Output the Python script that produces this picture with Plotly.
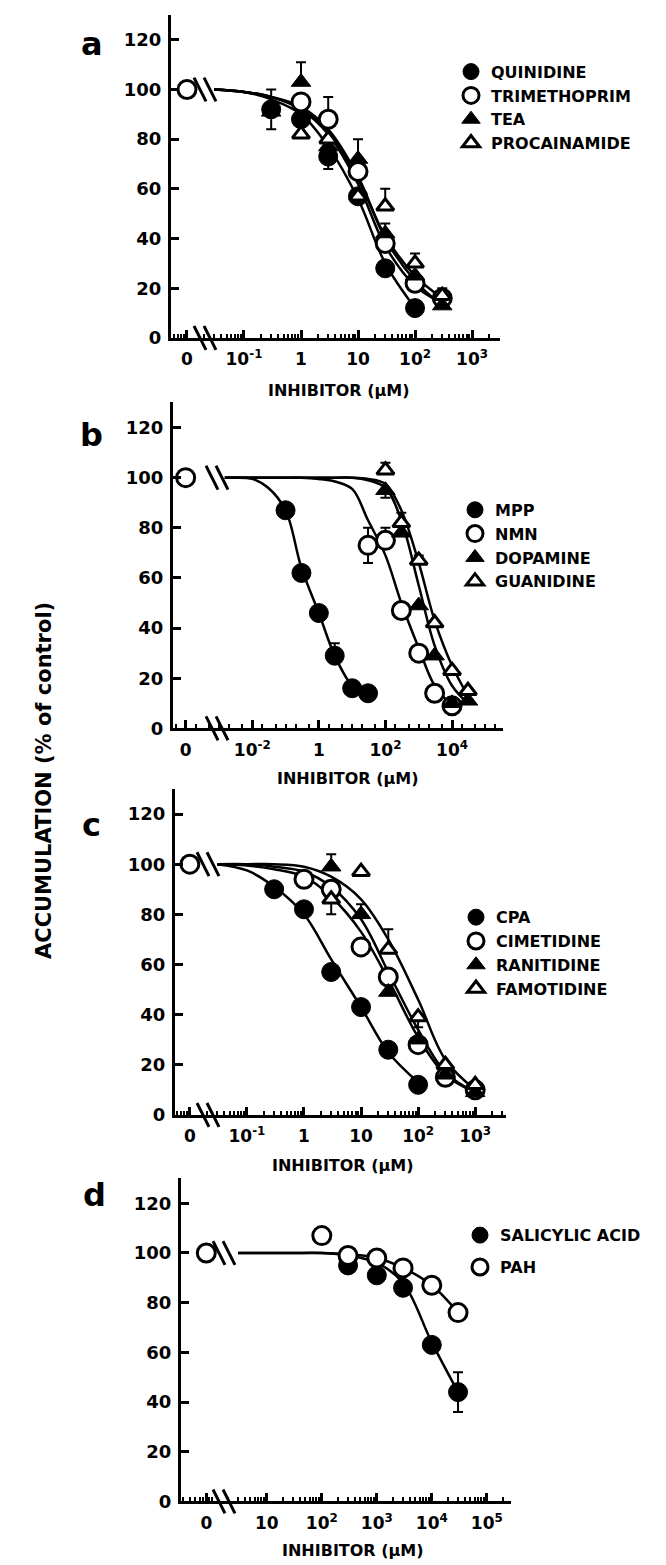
import plotly.graph_objects as go

W, H = 666, 1565
FONT = "DejaVu Sans"

# ================= DATA =================
CONTROL_Y = 100  # control accumulation (%) plotted at "0" inhibitor

# ---- panel a ----
A_QUIN_X = [0.3, 1, 3, 10, 30, 100]
A_QUIN_Y = [92, 88, 73, 57, 28, 12]
A_QUIN_EP = [8, 0, 0, 0, 0, 0]
A_QUIN_EM = [8, 0, 5, 0, 0, 0]
A_TRIM_X = [1, 3, 10, 30, 100, 300]
A_TRIM_Y = [95, 88, 67, 38, 22, 16]
A_TRIM_EP = [0, 9, 0, 0, 0, 0]
A_TEA_X = [0.3, 1, 3, 10, 30, 100, 300]
A_TEA_Y = [91, 103, 77, 72, 42, 25, 13]
A_TEA_EP = [0, 8, 0, 8, 4, 0, 0]
A_PROC_X = [1, 3, 10, 30, 100, 300]
A_PROC_Y = [82, 80, 57, 53, 30, 17]
A_PROC_EP = [0, 0, 0, 7, 4, 3]
# fitted curves
A_CURVE_X = [0.03, 0.1, 0.3, 1, 3, 10, 30, 100, 300]
A_QUIN_FIT = [100, 99, 96, 90, 77, 56, 30, 12]
A_TRIM_FIT = [100, 99, 97, 92, 82, 62, 37, 21, 14]
A_TEA_FIT = [100, 99, 97, 93, 84, 65, 40, 23, 13]
A_PROC_FIT = [100, 99, 97, 92, 83, 64, 41, 25, 16]
A_TICKVALS = [0.1, 1, 10, 100, 1000]
A_TICKTEXT = ["10<sup>-1</sup>", "1", "10", "10<sup>2</sup>", "10<sup>3</sup>"]

# ---- panel b ----
B_MPP_X = [0.1, 0.3, 1, 3, 10, 30]
B_MPP_Y = [87, 62, 46, 29, 16, 14]
B_MPP_EP = [0, 0, 0, 5, 0, 0]
B_NMN_X = [30, 100, 300, 1000, 3000, 10000]
B_NMN_Y = [73, 75, 47, 30, 14, 9]
B_NMN_EP = [7, 5, 0, 0, 0, 0]
B_NMN_EM = [7, 0, 0, 0, 0, 0]
B_DOPA_X = [100, 300, 1000, 3000, 10000, 30000]
B_DOPA_Y = [95, 78, 49, 29, 10, 11]
B_DOPA_EM = [3, 0, 0, 0, 0, 0]
B_GUAN_X = [100, 300, 1000, 3000, 10000, 30000]
B_GUAN_Y = [103, 82, 67, 42, 23, 15]
B_GUAN_EP = [3, 4, 2, 0, 0, 0]
B_CURVE_X = [0.0015, 0.003, 0.01, 0.03, 0.1, 0.3, 1, 3, 10, 30,
             100, 300, 1000, 3000, 10000, 30000]
B_MPP_FIT = [100, 100, 99.5, 96, 87, 64, 46, 29, 17, 13]
B_NMN_FIT = [100, 100, 100, 100, 100, 100, 99.5, 98.5, 95.5, 83, 69, 50, 32, 17, 9]
B_DOPA_FIT = [100, 100, 100, 100, 100, 100, 100, 100, 100, 99, 96, 83, 57, 33, 17, 10]
B_GUAN_FIT = [100, 100, 100, 100, 100, 100, 100, 100, 100, 99.5, 97.5, 87, 66, 43, 25, 13]
B_TICKVALS = [0.01, 1, 100, 10000]
B_TICKTEXT = ["10<sup>-2</sup>", "1", "10<sup>2</sup>", "10<sup>4</sup>"]

# ---- panel c ----
C_CPA_X = [0.3, 1, 3, 10, 30, 100]
C_CPA_Y = [90, 82, 57, 43, 26, 12]
C_CIM_X = [1, 3, 10, 30, 100, 300, 1000]
C_CIM_Y = [94, 90, 67, 55, 28, 15, 10]
C_RAN_X = [3, 10, 30, 100, 300, 1000]
C_RAN_Y = [99, 80, 49, 30, 16, 9]
C_RAN_EP = [5, 4, 0, 0, 0, 0]
C_FAM_X = [3, 10, 30, 100, 300, 1000]
C_FAM_Y = [86, 97, 66, 39, 20, 12]
C_FAM_EP = [0, 0, 8, 0, 0, 0]
C_FAM_EM = [6, 0, 0, 4, 0, 0]
C_CURVE_X = [0.03, 0.1, 0.3, 1, 3, 10, 30, 100, 300, 1000]
C_CPA_FIT = [100, 97.5, 91, 80, 62, 43, 25, 13]
C_CIM_FIT = [100, 99.5, 98, 95, 87, 73, 54, 31, 16, 9]
C_RAN_FIT = [100, 100, 99, 97, 91, 78, 57, 34, 17, 9]
C_FAM_FIT = [100, 100, 100, 99, 95, 86, 70, 46, 22, 10]
C_TICKVALS = [0.1, 1, 10, 100, 1000]
C_TICKTEXT = ["10<sup>-1</sup>", "1", "10", "10<sup>2</sup>", "10<sup>3</sup>"]

# ---- panel d ----
D_SA_X = [300, 1000, 3000, 10000, 30000]
D_SA_Y = [95, 91, 86, 63, 44]
D_SA_EP = [0, 0, 0, 0, 8]
D_SA_EM = [0, 0, 0, 0, 8]
D_PAH_X = [100, 300, 1000, 3000, 10000, 30000]
D_PAH_Y = [107, 99, 98, 94, 87, 76]
D_CURVE_X = [3, 10, 30, 100, 300, 1000, 3000, 10000, 30000]
D_SA_FIT = [100, 100, 100, 100, 99, 96, 88, 64, 44]
D_PAH_FIT = [100, 100, 100, 100, 99.5, 98, 94, 87, 76]
D_TICKVALS = [10, 100, 1000, 10000, 100000]
D_TICKTEXT = ["10", "10<sup>2</sup>", "10<sup>3</sup>", "10<sup>4</sup>", "10<sup>5</sup>"]

Y_TICKS = [0, 20, 40, 60, 80, 100, 120]
Y_MAX = 130

# ================= STYLE / LAYOUT =================
FILLED_CIRCLE = dict(symbol="circle", size=19, color="black", line=dict(color="black", width=1))
OPEN_CIRCLE = dict(symbol="circle", size=18, color="white", line=dict(color="black", width=3))
FILLED_TRI = dict(symbol="triangle-up", size=17, color="black", line=dict(color="black", width=1))
OPEN_TRI = dict(symbol="triangle-up", size=15, color="white", line=dict(color="black", width=3))

# panel geometry in pixels: left, right, top, bottom, x log range, control x,
# pixel column of the axis-break marks
PANELS = {
    "a": dict(l=163, r=492, t=7, b=332, xr=[-2.28, 3.49], ctrl=0.01, brk_px=197,
              leg=(443, 47), title=(331, 385), letter=(84, 36), minor="D1", gap=0),
    "b": dict(l=165, r=495, t=397, b=725, xr=[-4.38, 5.53], ctrl=1e-4, brk_px=209,
              leg=(447, 488), title=(340, 775), letter=(84, 430), minor="D2", gap=0),
    "c": dict(l=167, r=498, t=786, b=1114, xr=[-2.26, 3.54], ctrl=0.01, brk_px=200,
              leg=(448, 898), title=(335, 1165), letter=(84, 822), minor="D1", gap=0),
    "d": dict(l=173, r=503, t=1178, b=1503, xr=[-0.56, 5.44], ctrl=10 ** -0.1, brk_px=216,
              leg=(452, 1218), title=(345, 1552), letter=(86, 1195), minor="D1", gap=8),
}
TICKS = {"a": (A_TICKVALS, A_TICKTEXT), "b": (B_TICKVALS, B_TICKTEXT),
         "c": (C_TICKVALS, C_TICKTEXT), "d": (D_TICKVALS, D_TICKTEXT)}

fig = go.Figure()


def axes_of(i):
    return ("x" if i == 1 else f"x{i}"), ("y" if i == 1 else f"y{i}")


def legend_of(i):
    return "legend" if i == 1 else f"legend{i}"


def add_curve(i, xs, ys):
    xa, ya = axes_of(i)
    fig.add_trace(go.Scatter(x=xs[:len(ys)], y=ys, mode="lines", xaxis=xa, yaxis=ya,
                             line=dict(color="black", width=2.5, shape="spline", smoothing=1.0),
                             showlegend=False, hoverinfo="skip"))


def add_points(i, name, xs, ys, marker, ep=None, em=None):
    xa, ya = axes_of(i)
    err = None
    if ep is not None or em is not None:
        err = dict(type="data", symmetric=False,
                   array=ep if ep is not None else [0] * len(xs),
                   arrayminus=em if em is not None else [0] * len(xs),
                   color="black", thickness=2, width=5)
    fig.add_trace(go.Scatter(x=xs, y=ys, mode="markers", name=name, xaxis=xa, yaxis=ya,
                             marker=marker, error_y=err, cliponaxis=False,
                             legend=legend_of(i), legendgroup=name))


def add_control(i, ctrl_x):
    xa, ya = axes_of(i)
    fig.add_trace(go.Scatter(x=[ctrl_x], y=[CONTROL_Y], mode="markers", xaxis=xa, yaxis=ya,
                             marker=OPEN_CIRCLE, showlegend=False, cliponaxis=False))


# ---- panel a ----
add_curve(1, A_CURVE_X, A_QUIN_FIT)
add_curve(1, A_CURVE_X, A_TRIM_FIT)
add_curve(1, A_CURVE_X, A_TEA_FIT)
add_curve(1, A_CURVE_X, A_PROC_FIT)
add_control(1, PANELS["a"]["ctrl"])
add_points(1, "QUINIDINE", A_QUIN_X, A_QUIN_Y, FILLED_CIRCLE, A_QUIN_EP, A_QUIN_EM)
add_points(1, "TRIMETHOPRIM", A_TRIM_X, A_TRIM_Y, OPEN_CIRCLE, A_TRIM_EP)
add_points(1, "TEA", A_TEA_X, A_TEA_Y, FILLED_TRI, A_TEA_EP)
add_points(1, "PROCAINAMIDE", A_PROC_X, A_PROC_Y, OPEN_TRI, A_PROC_EP)

# ---- panel b ----
add_curve(2, B_CURVE_X, B_MPP_FIT)
add_curve(2, B_CURVE_X, B_NMN_FIT)
add_curve(2, B_CURVE_X, B_DOPA_FIT)
add_curve(2, B_CURVE_X, B_GUAN_FIT)
add_control(2, PANELS["b"]["ctrl"])
add_points(2, "MPP", B_MPP_X, B_MPP_Y, FILLED_CIRCLE, B_MPP_EP)
add_points(2, "NMN", B_NMN_X, B_NMN_Y, OPEN_CIRCLE, B_NMN_EP, B_NMN_EM)
add_points(2, "DOPAMINE", B_DOPA_X, B_DOPA_Y, FILLED_TRI, None, B_DOPA_EM)
add_points(2, "GUANIDINE", B_GUAN_X, B_GUAN_Y, OPEN_TRI, B_GUAN_EP)

# ---- panel c ----
add_curve(3, C_CURVE_X, C_CPA_FIT)
add_curve(3, C_CURVE_X, C_CIM_FIT)
add_curve(3, C_CURVE_X, C_RAN_FIT)
add_curve(3, C_CURVE_X, C_FAM_FIT)
add_control(3, PANELS["c"]["ctrl"])
add_points(3, "CPA", C_CPA_X, C_CPA_Y, FILLED_CIRCLE)
add_points(3, "CIMETIDINE", C_CIM_X, C_CIM_Y, OPEN_CIRCLE)
add_points(3, "RANITIDINE", C_RAN_X, C_RAN_Y, FILLED_TRI, C_RAN_EP)
add_points(3, "FAMOTIDINE", C_FAM_X, C_FAM_Y, OPEN_TRI, C_FAM_EP, C_FAM_EM)

# ---- panel d ----
add_curve(4, D_CURVE_X, D_SA_FIT)
add_curve(4, D_CURVE_X, D_PAH_FIT)
add_control(4, PANELS["d"]["ctrl"])
add_points(4, "SALICYLIC ACID", D_SA_X, D_SA_Y, FILLED_CIRCLE, D_SA_EP, D_SA_EM)
add_points(4, "PAH", D_PAH_X, D_PAH_Y, OPEN_CIRCLE)

layout = dict(width=W, height=H, margin=dict(l=0, r=0, t=0, b=0),
              paper_bgcolor="white", plot_bgcolor="white", showlegend=True,
              font=dict(family=FONT, color="black", size=16, weight="bold"))
annotations = []
shapes = []
for i, key in enumerate(["a", "b", "c", "d"], start=1):
    p = PANELS[key]
    tv, tt = TICKS[key]
    xname = "xaxis" if i == 1 else f"xaxis{i}"
    yname = "yaxis" if i == 1 else f"yaxis{i}"
    xa, ya = axes_of(i)
    layout[xname] = dict(
        type="log", domain=[p["l"] / W, p["r"] / W], range=p["xr"], anchor=ya,
        showline=True, linecolor="black", linewidth=3, showgrid=False, zeroline=False,
        ticks="inside", ticklen=8, tickwidth=2.5, tickcolor="black",
        tickvals=[p["ctrl"]] + tv, ticktext=["0"] + tt,
        tickfont=dict(family=FONT, size=17, color="black", weight="bold"),
        ticklabelstandoff=4,
        minor=dict(ticks="inside", ticklen=4, tickwidth=2, tickcolor="black",
                   dtick=p["minor"], showgrid=False),
        fixedrange=True)
    layout[yname] = dict(
        domain=[1 - p["b"] / H, 1 - p["t"] / H], range=[0, Y_MAX], anchor=xa,
        showline=True, linecolor="black", linewidth=3, showgrid=False, zeroline=False,
        ticks="inside", ticklen=8, tickwidth=2.5, tickcolor="black",
        tickvals=Y_TICKS,
        tickfont=dict(family=FONT, size=18, color="black", weight="bold"),
        ticklabelstandoff=3, fixedrange=True)
    lx, ly = p["leg"]
    layout[legend_of(i)] = dict(x=lx / W, y=1 - ly / H, xanchor="left", yanchor="top",
                                bgcolor="rgba(0,0,0,0)", borderwidth=0,
                                font=dict(family=FONT, size=16, color="black", weight="bold"),
                                tracegroupgap=p["gap"], itemclick=False)
    tx, ty = p["title"]
    annotations.append(dict(text="INHIBITOR (µM)", x=tx / W, y=1 - ty / H, xref="paper", yref="paper",
                            showarrow=False, xanchor="center", yanchor="middle",
                            font=dict(family=FONT, size=16, color="black", weight="bold")))
    cx, cy = p["letter"]
    annotations.append(dict(text=key, x=cx / W, y=1 - cy / H, xref="paper", yref="paper",
                            showarrow=False, xanchor="center", yanchor="middle",
                            font=dict(family=FONT, size=32, color="black", weight="bold")))
    # axis-break marks "\\": at the control level and across the x axis (paper coords)
    level_px = p["b"] - CONTROL_Y * (p["b"] - p["t"]) / Y_MAX
    for cy_px in (level_px, p["b"]):
        for dx in (-5, 5):
            x0 = p["brk_px"] + dx - 6
            x1 = p["brk_px"] + dx + 6
            shapes.append(dict(type="line", xref="paper", yref="paper",
                               x0=x0 / W, x1=x1 / W,
                               y0=1 - (cy_px - 12) / H, y1=1 - (cy_px + 12) / H,
                               line=dict(color="black", width=3), layer="above"))

annotations.append(dict(text="ACCUMULATION (% of control)", x=36 / W, y=1 - 778 / H,
                        xref="paper", yref="paper", showarrow=False, textangle=-90,
                        xanchor="center", yanchor="middle",
                        font=dict(family=FONT, size=21, color="black", weight="bold")))
layout["annotations"] = annotations
layout["shapes"] = shapes
fig.update_layout(**layout)
fig.write_html("out.html")
